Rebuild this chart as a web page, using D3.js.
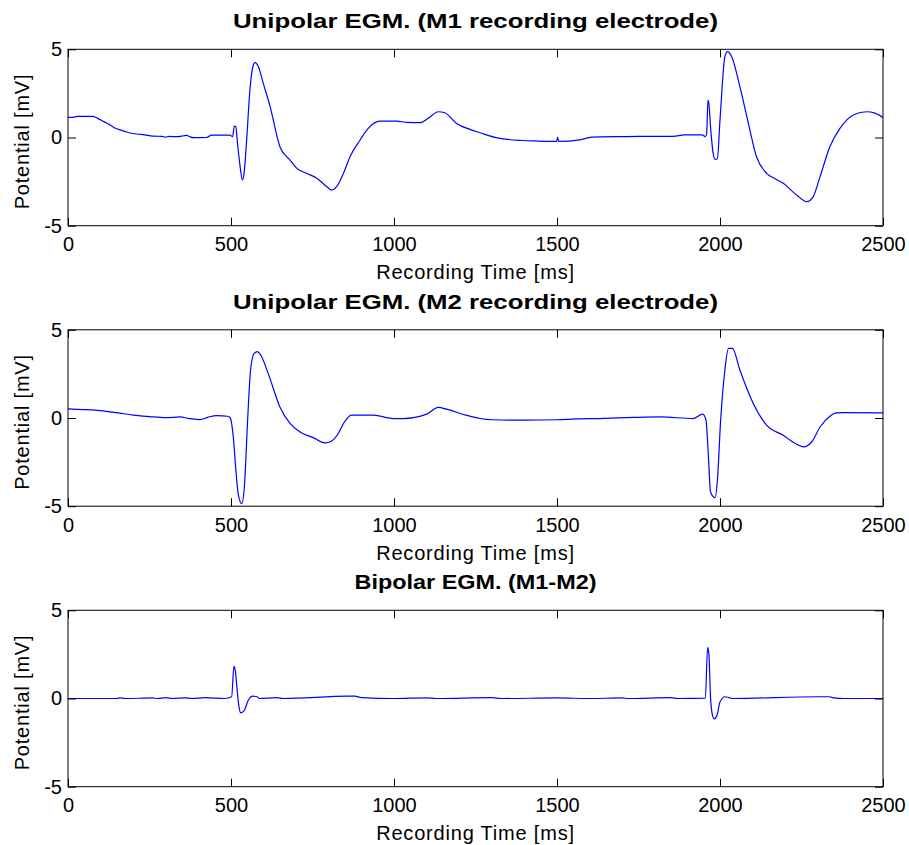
<!DOCTYPE html>
<html>
<head>
<meta charset="utf-8">
<script src="https://cdn.jsdelivr.net/npm/d3@7"></script>
<style>
  html, body { margin: 0; padding: 0; background: #fff; }
  svg { display: block; font-family: "Liberation Sans", Arial, Helvetica, sans-serif; }
</style>
</head>
<body>
<svg id="chart" width="909" height="845"></svg>
<script>
// ---- Data ----
const titles = [
  "Unipolar EGM. (M1 recording electrode)",
  "Unipolar EGM. (M2 recording electrode)",
  "Bipolar EGM. (M1-M2)"
];
const xLabel = "Recording Time [ms]";
const yLabel = "Potential [mV]";
const xTicks = [0, 500, 1000, 1500, 2000, 2500];
const yTicks = [-5, 0, 5];

const m1Time = [0,20,30,75,90,110,130,146,165,182,210,235,260,288,300,310,340,355,364,372,384,425,441,497,505,510,515,519,528,535,540,548,558,567,574,584,599,620,650,681,702,732,763,794,809,824,845,865,896,921,957,1008,1040,1080,1105,1136,1156,1192,1233,1264,1321,1392,1440,1499,1502,1505,1570,1606,1700,1749,1856,1891,1945,1955,1959,1963,1966,1971,1979,1985,1992,2000,2015,2023,2036,2061,2087,2112,2143,2170,2194,2235,2266,2286,2307,2337,2368,2409,2450,2475,2500];
const m1Value = [1.14,1.16,1.2,1.2,1.1,0.9,0.7,0.52,0.4,0.3,0.2,0.15,0.08,0.06,0.02,0.06,0.05,0.1,0.12,0.06,-0.01,0.0,0.14,0.14,0.05,0.65,0.6,-0.14,-1.65,-2.41,-2.03,-0.14,2.69,4.01,4.24,4.01,3.07,1.75,-0.52,-1.28,-1.75,-2.03,-2.31,-2.79,-2.98,-2.79,-2.03,-1.09,-0.14,0.52,0.93,0.93,0.86,0.84,1.09,1.46,1.4,0.8,0.46,0.27,-0.04,-0.17,-0.2,-0.22,0.02,-0.22,-0.13,0.02,0.05,0.06,0.06,0.15,0.15,0.05,0.2,2.1,1.9,0.6,-0.9,-1.24,-1.2,0.99,4.58,4.87,4.58,2.88,0.8,-1.09,-2.03,-2.35,-2.6,-3.26,-3.64,-3.35,-2.22,-0.52,0.52,1.28,1.46,1.38,1.14];

const m2Time = [0,50,100,150,200,250,300,343,370,405,430,456,490,497,507,515,522,533,541,551,560,571,581,591,614,650,681,712,752,788,809,829,845,870,937,998,1028,1100,1136,1161,1213,1264,1300,1400,1500,1560,1632,1734,1816,1918,1947,1957,1964,1971,1985,1992,2002,2015,2026,2038,2061,2102,2143,2194,2235,2256,2281,2307,2337,2358,2380,2500];
const m2Value = [0.52,0.48,0.42,0.3,0.16,0.08,0.02,0.06,-0.02,-0.09,0.05,0.14,0.1,0.03,-1.07,-2.97,-4.29,-4.86,-3.91,-0.12,2.72,3.66,3.76,3.57,2.53,0.63,-0.31,-0.79,-1.11,-1.41,-1.3,-0.88,-0.31,0.16,0.16,-0.03,-0.03,0.22,0.6,0.5,0.2,-0.03,-0.1,-0.12,-0.1,-0.05,-0.03,0.03,0.06,-0.03,0.22,-0.12,-2.02,-4.2,-4.52,-3.53,-0.12,2.72,3.95,3.95,2.72,0.82,-0.41,-0.98,-1.49,-1.64,-1.36,-0.51,0.1,0.29,0.3,0.29];

const bipTime = [0,150,160,175,260,275,300,320,360,380,420,480,502,509,513,519,524,530,540,553,567,580,587,640,660,860,880,900,1000,1100,1130,1300,1330,1500,1600,1700,1720,1850,1870,1955,1962,1966,1971,1976,1982,1990,2000,2015,2028,2040,2300,2335,2350,2380,2500];
const bipValue = [0,0,0.04,0,0.03,0,0.05,0,0.04,0,0.05,0,0.1,1.82,1.6,0.45,-0.4,-0.81,-0.7,-0.1,0.13,0.1,0,0.05,0,0.13,0.13,0.05,0,0.04,0,0.05,0,0.03,0,0.03,0,0.05,0,0.02,2.9,2.5,0.05,-0.87,-1.15,-1.0,-0.2,0.1,0.05,0,0.1,0.1,0.03,0,0];

const seriesTimes = [m1Time, m2Time, bipTime];
const seriesValues = [m1Value, m2Value, bipValue];

// ---- Layout ----
const svg = d3.select("#chart");
const left = 68, right = 883;
const panelTops = [49.3, 329.8, 610.3];
const panelH = 176.4;
const fontTick = 20;
const titleWidths = [485, 485, 242];

const x = d3.scaleLinear().domain([0, 2500]).range([left, right]);
const fmt = d => String(d);

panelTops.forEach((top, i) => {
  const y = d3.scaleLinear().domain([-5, 5]).range([top + panelH, top]);
  const g = svg.append("g");

  const data = seriesTimes[i].map((t, k) => [t, seriesValues[i][k]]);
  const line = d3.line().curve(d3.curveMonotoneX).x(d => x(d[0])).y(d => y(d[1]));

  g.append("path")
    .datum(data)
    .attr("d", line)
    .attr("fill", "none")
    .attr("stroke", "#0000ff")
    .attr("stroke-width", 1.2)
    .attr("stroke-linejoin", "round");

  // axes (ticks inward like MATLAB)
  const bottom = g.append("g").attr("transform", `translate(0,${top + panelH})`)
    .call(d3.axisBottom(x).tickValues(xTicks).tickSize(-8).tickPadding(11.5).tickFormat(fmt));
  const topAx = g.append("g").attr("transform", `translate(0,${top})`)
    .call(d3.axisTop(x).tickValues(xTicks).tickSize(-8).tickFormat(""));
  const leftAx = g.append("g").attr("transform", `translate(${left},0)`)
    .call(d3.axisLeft(y).tickValues(yTicks).tickSize(-8).tickPadding(6).tickFormat(fmt));
  const rightAx = g.append("g").attr("transform", `translate(${right},0)`)
    .call(d3.axisRight(y).tickValues(yTicks).tickSize(-8).tickFormat(""));

  [bottom, topAx, leftAx, rightAx].forEach(a => {
    a.select(".domain").remove();
    a.selectAll("line").attr("stroke", "#000");
    a.selectAll("text").attr("font-size", fontTick).attr("fill", "#000")
      .attr("font-family", "'Liberation Sans', Arial, Helvetica, sans-serif");
  });

  g.append("rect")
    .attr("x", left).attr("y", top)
    .attr("width", right - left).attr("height", panelH)
    .attr("fill", "none").attr("stroke", "#000").attr("stroke-width", 1);

  // title
  g.append("text")
    .attr("x", (left + right) / 2).attr("y", top - 21)
    .attr("text-anchor", "middle")
    .attr("font-size", 21).attr("font-weight", "bold")
    .attr("textLength", titleWidths[i])
    .attr("lengthAdjust", "spacingAndGlyphs")
    .attr("fill", "#000")
    .text(titles[i]);

  // x label
  g.append("text")
    .attr("x", (left + right) / 2).attr("y", top + panelH + 53.5)
    .attr("text-anchor", "middle")
    .attr("font-size", 20).attr("letter-spacing", 0.8)
    .attr("fill", "#000")
    .text(xLabel);

  // y label
  g.append("text")
    .attr("transform", `translate(29,${top + panelH / 2 + 4}) rotate(-90)`)
    .attr("text-anchor", "middle")
    .attr("font-size", 20).attr("letter-spacing", 0.8)
    .attr("fill", "#000")
    .text(yLabel);
});
</script>
</body>
</html>
